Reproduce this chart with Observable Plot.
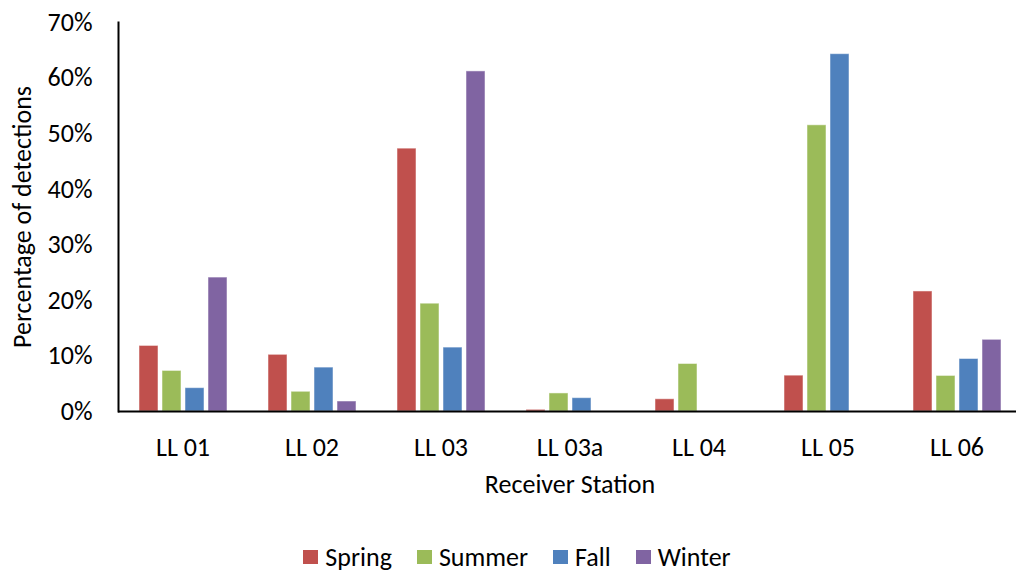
<!DOCTYPE html>
<html><head><meta charset="utf-8">
<script src="https://cdn.jsdelivr.net/npm/d3@7"></script>
<script src="https://cdn.jsdelivr.net/npm/@observablehq/plot@0.6"></script>
<style>
body{margin:0;background:#fff;font-family:Carlito,Lato,sans-serif;}
#chart{width:1016px;height:520px;}
#legend{width:998px;height:30px;padding-top:22px;padding-left:18px;display:flex;justify-content:center;align-items:center;gap:25px;font-size:26px;color:#000;}
#legend .item{display:flex;align-items:center;gap:7px;}
#legend .sw{width:15px;height:14px;display:inline-block;}
</style></head><body>
<div id="chart"></div>
<div id="legend"></div>
<script>
const stations = ["LL 01","LL 02","LL 03","LL 03a","LL 04","LL 05","LL 06"];
const seasons = ["Spring","Summer","Fall","Winter"];
const spring = [11.8, 10.2, 47.3, 0.3, 2.2, 6.45, 21.6];
const summer = [7.3, 3.55, 19.4, 3.25, 8.55, 51.5, 6.4];
const fall   = [4.2, 7.9, 11.5, 2.4, 0, 64.3, 9.45];
const winter = [24.1, 1.8, 61.2, 0, 0, 0, 12.9];
const colors = ["#C0504D","#9BBB59","#4F81BD","#8064A2"];
const yTicks = [0,10,20,30,40,50,60,70];

const series = [spring, summer, fall, winter];
const data = [];
stations.forEach((st, i) => seasons.forEach((se, j) => data.push({station: st, season: se, value: series[j][i]})));

const chart = Plot.plot({
  width: 1016, height: 520,
  marginTop: 22, marginBottom: 109, marginLeft: 116, marginRight: -6,
  style: {fontFamily: "Carlito, Lato, sans-serif", fontSize: "26px", color: "#000", background: "#fff", overflow: "visible"},
  fx: {domain: stations, padding: 0},
  x: {domain: seasons, paddingInner: 0.188, paddingOuter: 0.86, axis: null},
  y: {domain: [0, 70]},
  color: {domain: seasons, range: colors},
  marks: [
    Plot.barY(data, {fx: "station", x: "season", y: "value", fill: "season", stroke: "#fff", strokeOpacity: 0.5, strokeWidth: 1}),
    Plot.ruleY([0], {stroke: "#000", strokeWidth: 2}),
    Plot.frame({anchor: "left", fx: ["LL 01"], stroke: "#000", strokeWidth: 2}),
    Plot.axisY(yTicks, {tickSize: 0, tickPadding: 26, tickFormat: d => d + "%", label: "Percentage of detections", labelArrow: "none", labelAnchor: "center", labelOffset: 106, fontSize: 26}),
    Plot.axisFx({anchor: "bottom", tickSize: 0, tickPadding: 26, label: "Receiver Station", labelArrow: "none", labelAnchor: "center", labelOffset: 81, fontSize: 26})
  ]
});
document.getElementById("chart").appendChild(chart);

const legend = document.getElementById("legend");
seasons.forEach((s, i) => {
  const item = document.createElement("span");
  item.className = "item";
  const sw = document.createElement("span");
  sw.className = "sw";
  sw.style.background = colors[i];
  const t = document.createElement("span");
  t.textContent = s;
  item.appendChild(sw); item.appendChild(t);
  legend.appendChild(item);
});
</script>
</body></html>
